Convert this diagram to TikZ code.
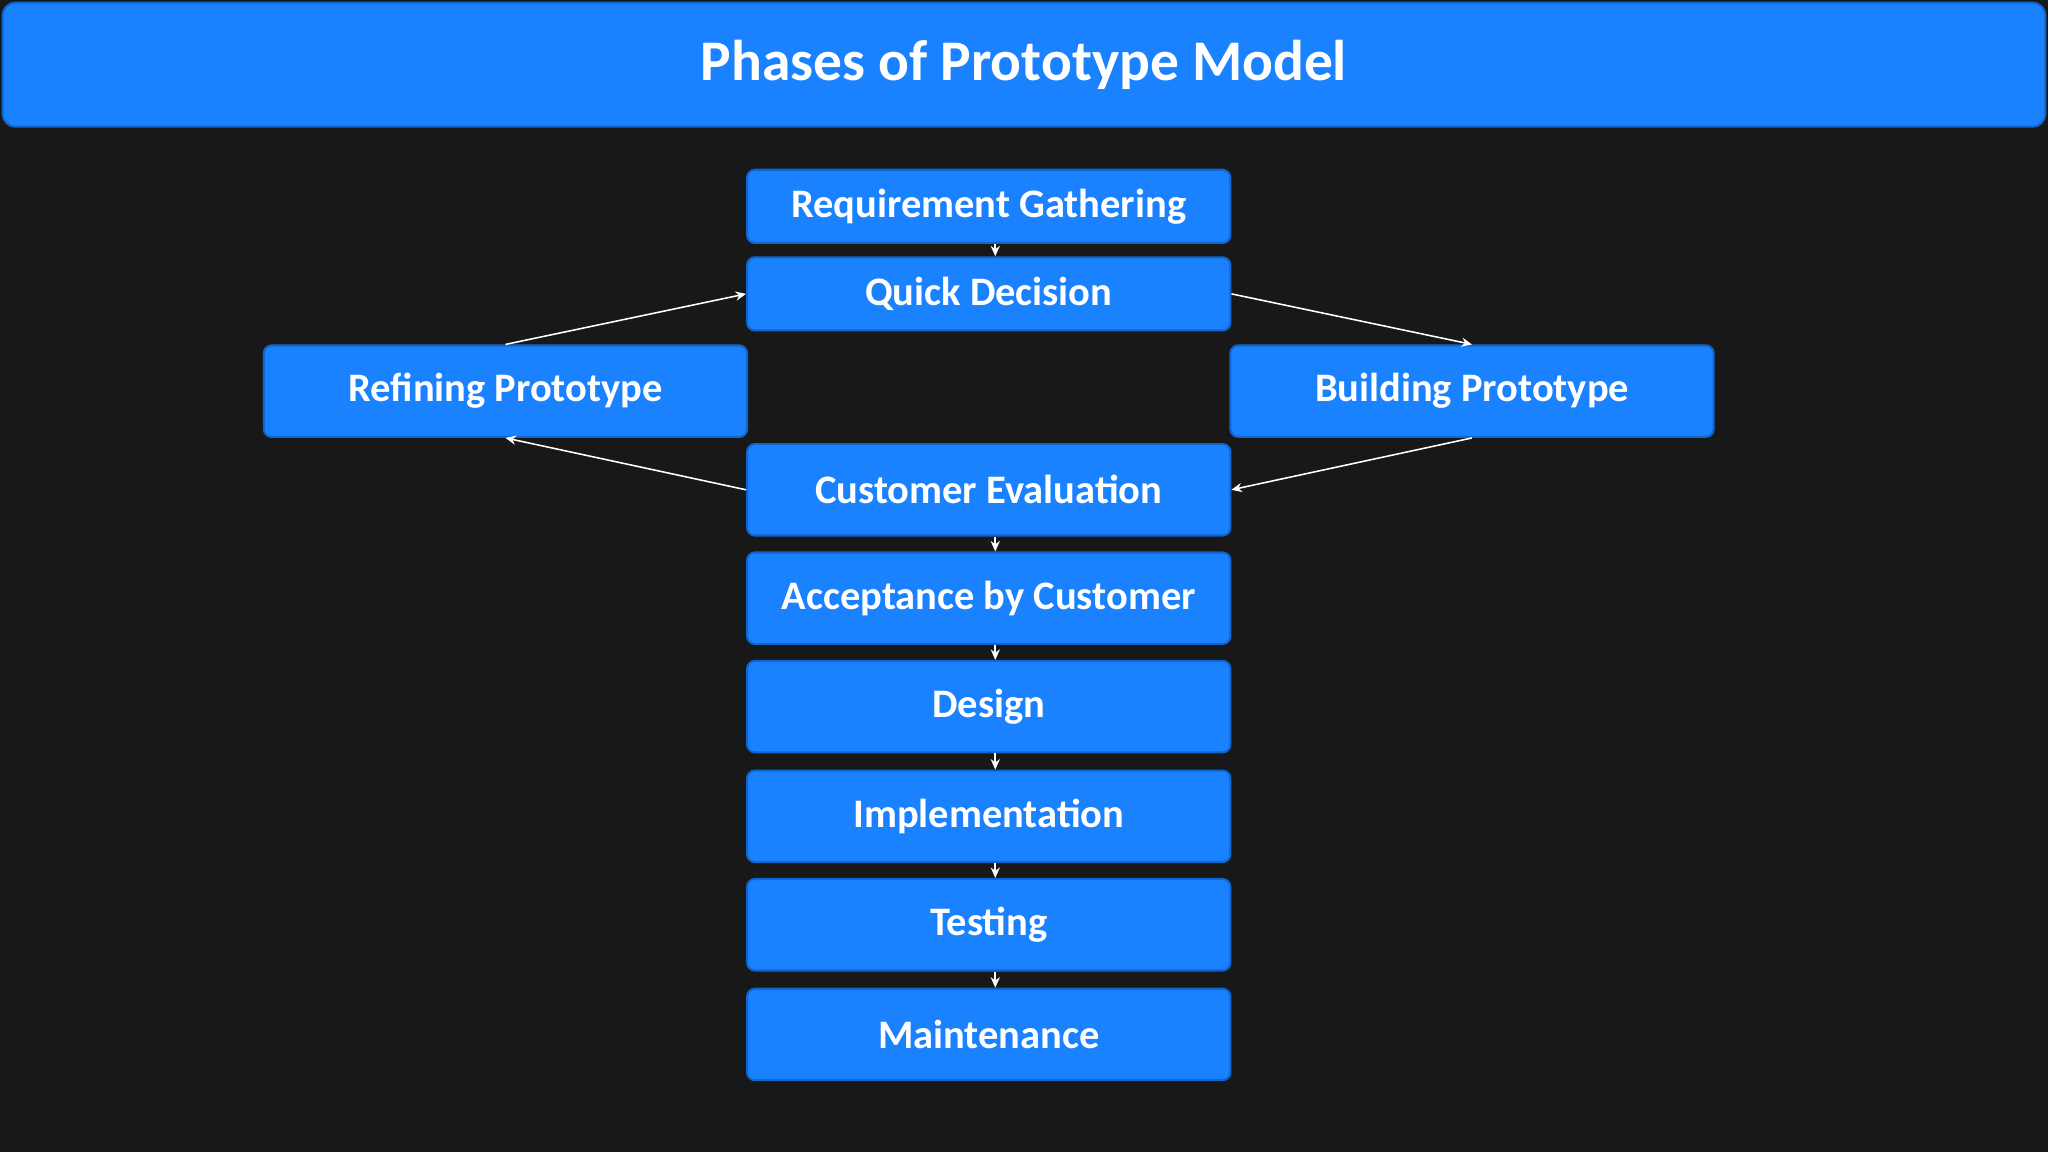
\documentclass[tikz,border=0pt]{standalone}
\usepackage{fontspec}
\setmainfont{Carlito}
\usetikzlibrary{arrows.meta}
\definecolor{bg}{HTML}{181818}
\definecolor{bx}{HTML}{1A82FF}
\definecolor{bd}{HTML}{0F66D0}
\begin{document}
\begin{tikzpicture}[x=0.5pt,y=-0.5pt,
  box/.style={draw=bd,line width=0.8pt,fill=bx,rounded corners=3pt,text=white,font=\fontsize{15.5}{18}\selectfont\bfseries,inner sep=0pt},
  ar/.style={draw=white,line width=0.6pt,-{Stealth[length=4pt,width=3.5pt]}}]
\fill[bg] (0,0) rectangle (1568,882);
\useasboundingbox (0,0) rectangle (1568,882);
\node[box,rounded corners=5pt,minimum width=782pt,minimum height=47.5pt,font=\fontsize{22}{26}\selectfont\bfseries] (title) at (784,49.5) {Phases of Prototype Model};
\node[box,minimum width=185pt,minimum height=28pt] (req) at (757,158) {Requirement Gathering};
\node[box,minimum width=185pt,minimum height=28pt] (qd) at (757,225) {Quick Decision};
\node[box,minimum width=185pt,minimum height=35pt] (ref) at (387,299.5) {Refining Prototype};
\node[box,minimum width=185pt,minimum height=35pt] (bld) at (1127,299.5) {Building Prototype};
\node[box,minimum width=185pt,minimum height=35pt] (ce) at (757,375) {Customer Evaluation};
\node[box,minimum width=185pt,minimum height=35pt] (acc) at (757,458) {Acceptance by Customer};
\node[box,minimum width=185pt,minimum height=35pt] (des) at (757,541) {Design};
\node[box,minimum width=185pt,minimum height=35pt] (imp) at (757,625) {Implementation};
\node[box,minimum width=185pt,minimum height=35pt] (tst) at (757,708) {Testing};
\node[box,minimum width=185pt,minimum height=35pt] (mnt) at (757,792) {Maintenance};
\draw[ar] ([xshift=2.5pt]req.south) -- ([xshift=2.5pt]qd.north);
\draw[ar] ([xshift=2.5pt]ce.south) -- ([xshift=2.5pt]acc.north);
\draw[ar] ([xshift=2.5pt]acc.south) -- ([xshift=2.5pt]des.north);
\draw[ar] ([xshift=2.5pt]des.south) -- ([xshift=2.5pt]imp.north);
\draw[ar] ([xshift=2.5pt]imp.south) -- ([xshift=2.5pt]tst.north);
\draw[ar] ([xshift=2.5pt]tst.south) -- ([xshift=2.5pt]mnt.north);
\draw[ar] (ref.north) -- (qd.west);
\draw[ar] (qd.east) -- (bld.north);
\draw[ar] (bld.south) -- (ce.east);
\draw[ar] (ce.west) -- (ref.south);
\end{tikzpicture}
\end{document}
